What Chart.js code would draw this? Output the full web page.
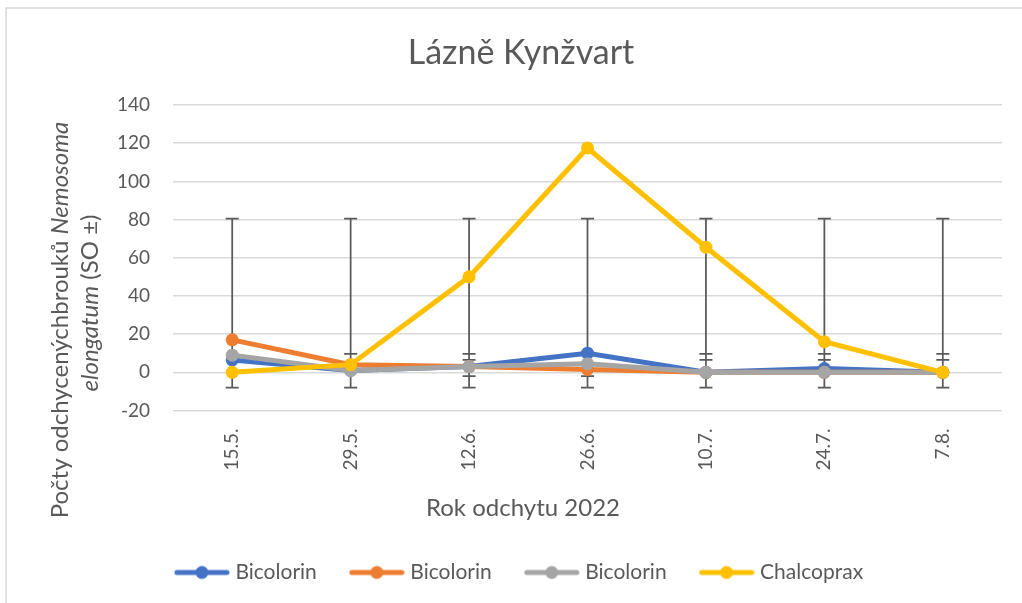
<!DOCTYPE html>
<html>
<head>
<meta charset="utf-8">
<script src="https://cdn.jsdelivr.net/npm/chart.js@4.4.1/dist/chart.umd.min.js"></script>
<style>
  html, body { margin: 0; padding: 0; background: #fff; overflow: hidden; }
  #wrap { width: 1022px; height: 603px; position: relative; }
</style>
</head>
<body>
<div id="wrap"><canvas id="chart" width="1022" height="603"></canvas></div>
<script>
// data
const dates = ['15.5.', '29.5.', '12.6.', '26.6.', '10.7.', '24.7.', '7.8.'];
const bicolorinA = [6.5, 1, 3, 10, 0, 2, 0];
const bicolorinB = [17, 4, 3, 1.5, 0, 0, 0];
const bicolorinC = [9, 1, 3, 4.5, 0, 0, 0];
const chalcoprax = [0, 4, 50, 117.5, 65.5, 16, 0];

// error bars (SO ±)
const errHigh = [80.5, 80.5, 80.5, 80.5, 80.5, 80.5, 80.5];
const errLow = [-8, -8, -8, -8, -8, -8, -8];
const errCaps = [[], [9.7], [9.7, 6.5, -2], [-2], [9.7, 6.5], [9.7, 6.5], [9.7, 6.5]];

const yTicks = [140, 120, 100, 80, 60, 40, 20, 0, -20];

const FONT = 'Lato, "Open Sans", sans-serif';
const TEXT = '#595959';

function legendIcon(color) {
    const c = document.createElement('canvas');
    c.width = 56;
    c.height = 16;
    const g = c.getContext('2d');
    g.strokeStyle = color;
    g.lineWidth = 5;
    g.lineCap = 'round';
    g.beginPath();
    g.moveTo(3, 8);
    g.lineTo(53, 8);
    g.stroke();
    g.fillStyle = color;
    g.beginPath();
    g.arc(28, 8, 6.5, 0, Math.PI * 2);
    g.fill();
    return c;
}

function series(label, data, color, order) {
    return {
        label: label,
        data: data,
        borderColor: color,
        backgroundColor: color,
        borderWidth: 5,
        pointRadius: 6.5,
        pointHoverRadius: 6.5,
        pointBorderWidth: 0,
        pointBackgroundColor: color,
        tension: 0,
        order: order,
        icon: legendIcon(color)
    };
}

// frame, chart title, axis titles and error bars
const extras = {
    id: 'extras',
    beforeDatasetsDraw(chart) {
        const ctx = chart.ctx;
        const x = chart.scales.x;
        const y = chart.scales.y;
        ctx.save();
        ctx.strokeStyle = '#595959';
        ctx.lineWidth = 1.75;
        dates.forEach((d, i) => {
            const px = x.getPixelForValue(i);
            const top = y.getPixelForValue(errHigh[i]);
            const bot = y.getPixelForValue(errLow[i]);
            ctx.beginPath();
            ctx.moveTo(px, top);
            ctx.lineTo(px, bot);
            [errHigh[i], errLow[i]].concat(errCaps[i]).forEach(v => {
                const py = y.getPixelForValue(v);
                ctx.moveTo(px - 6.5, py);
                ctx.lineTo(px + 6.5, py);
            });
            ctx.stroke();
        });
        ctx.restore();
    },
    afterDraw(chart) {
        const ctx = chart.ctx;
        ctx.save();
        ctx.strokeStyle = '#D9D9D9';
        ctx.lineWidth = 1.5;
        ctx.strokeRect(6, 8, 1100, 700);

        ctx.fillStyle = TEXT;
        ctx.textAlign = 'center';
        ctx.textBaseline = 'middle';
        ctx.font = '34px ' + FONT;
        ctx.fillText('Lázně Kynžvart', 521, 53);

        ctx.font = '24px ' + FONT;
        ctx.fillText('Rok odchytu 2022', 523, 508);

        // y title, two lines, mixed italic
        const lines = [
            { cx: 60, cy: 320, parts: [['Počty odchycenýchbrouků ', ''], ['Nemosoma', 'italic ']] },
            { cx: 90, cy: 303, parts: [['elongatum', 'italic '], [' (SO ±)', '']] }
        ];
        ctx.textAlign = 'left';
        lines.forEach(line => {
            let total = 0;
            line.parts.forEach(p => {
                ctx.font = p[1] + '24px ' + FONT;
                total += ctx.measureText(p[0]).width;
            });
            ctx.save();
            ctx.translate(line.cx, line.cy);
            ctx.rotate(-Math.PI / 2);
            let pos = -total / 2;
            line.parts.forEach(p => {
                ctx.font = p[1] + '24px ' + FONT;
                ctx.fillText(p[0], pos, 0);
                pos += ctx.measureText(p[0]).width;
            });
            ctx.restore();
        });
        ctx.restore();
    }
};

const chart = new Chart(document.getElementById('chart'), {
    type: 'line',
    data: {
        labels: dates,
        datasets: [
            series('Bicolorin', bicolorinA, '#4472C4', 4),
            series('Bicolorin', bicolorinB, '#ED7D31', 3),
            series('Bicolorin', bicolorinC, '#A5A5A5', 2),
            series('Chalcoprax', chalcoprax, '#FFC000', 1)
        ]
    },
    options: {
        responsive: false,
        animation: false,
        layout: { padding: { left: 40, right: 20, top: 105, bottom: 10 } },
        plugins: {
            title: { display: false },
            tooltip: { enabled: false },
            legend: {
                position: 'bottom',
                labels: {
                    usePointStyle: true,
                    pointStyleWidth: 46,
                    boxHeight: 16,
                    padding: 37,
                    color: TEXT,
                    font: { family: FONT, size: 21 },
                    generateLabels(chart) {
                        return chart.data.datasets.map((ds, i) => ({
                            text: ds.label,
                            pointStyle: ds.icon,
                            fillStyle: ds.borderColor,
                            strokeStyle: ds.borderColor,
                            lineWidth: 0,
                            fontColor: TEXT,
                            datasetIndex: i,
                            hidden: false
                        }));
                    }
                }
            }
        },
        scales: {
            x: {
                offset: true,
                grid: { display: false, drawTicks: false },
                border: { display: false },
                ticks: {
                    color: TEXT,
                    font: { family: FONT, size: 19 },
                    minRotation: 90,
                    maxRotation: 90,
                    padding: 18
                },
                afterFit(scale) { scale.height = 114.5; }
            },
            y: {
                min: -20,
                max: 140,
                afterBuildTicks(scale) { scale.ticks = yTicks.map(v => ({ value: v })); },
                grid: { color: '#D9D9D9', lineWidth: 1.5, drawTicks: false },
                border: { display: false },
                ticks: {
                    color: TEXT,
                    font: { family: FONT, size: 19 },
                    padding: 23
                },
                afterFit(scale) { scale.width = 133; }
            }
        }
    },
    plugins: [extras]
});
</script>
</body>
</html>
